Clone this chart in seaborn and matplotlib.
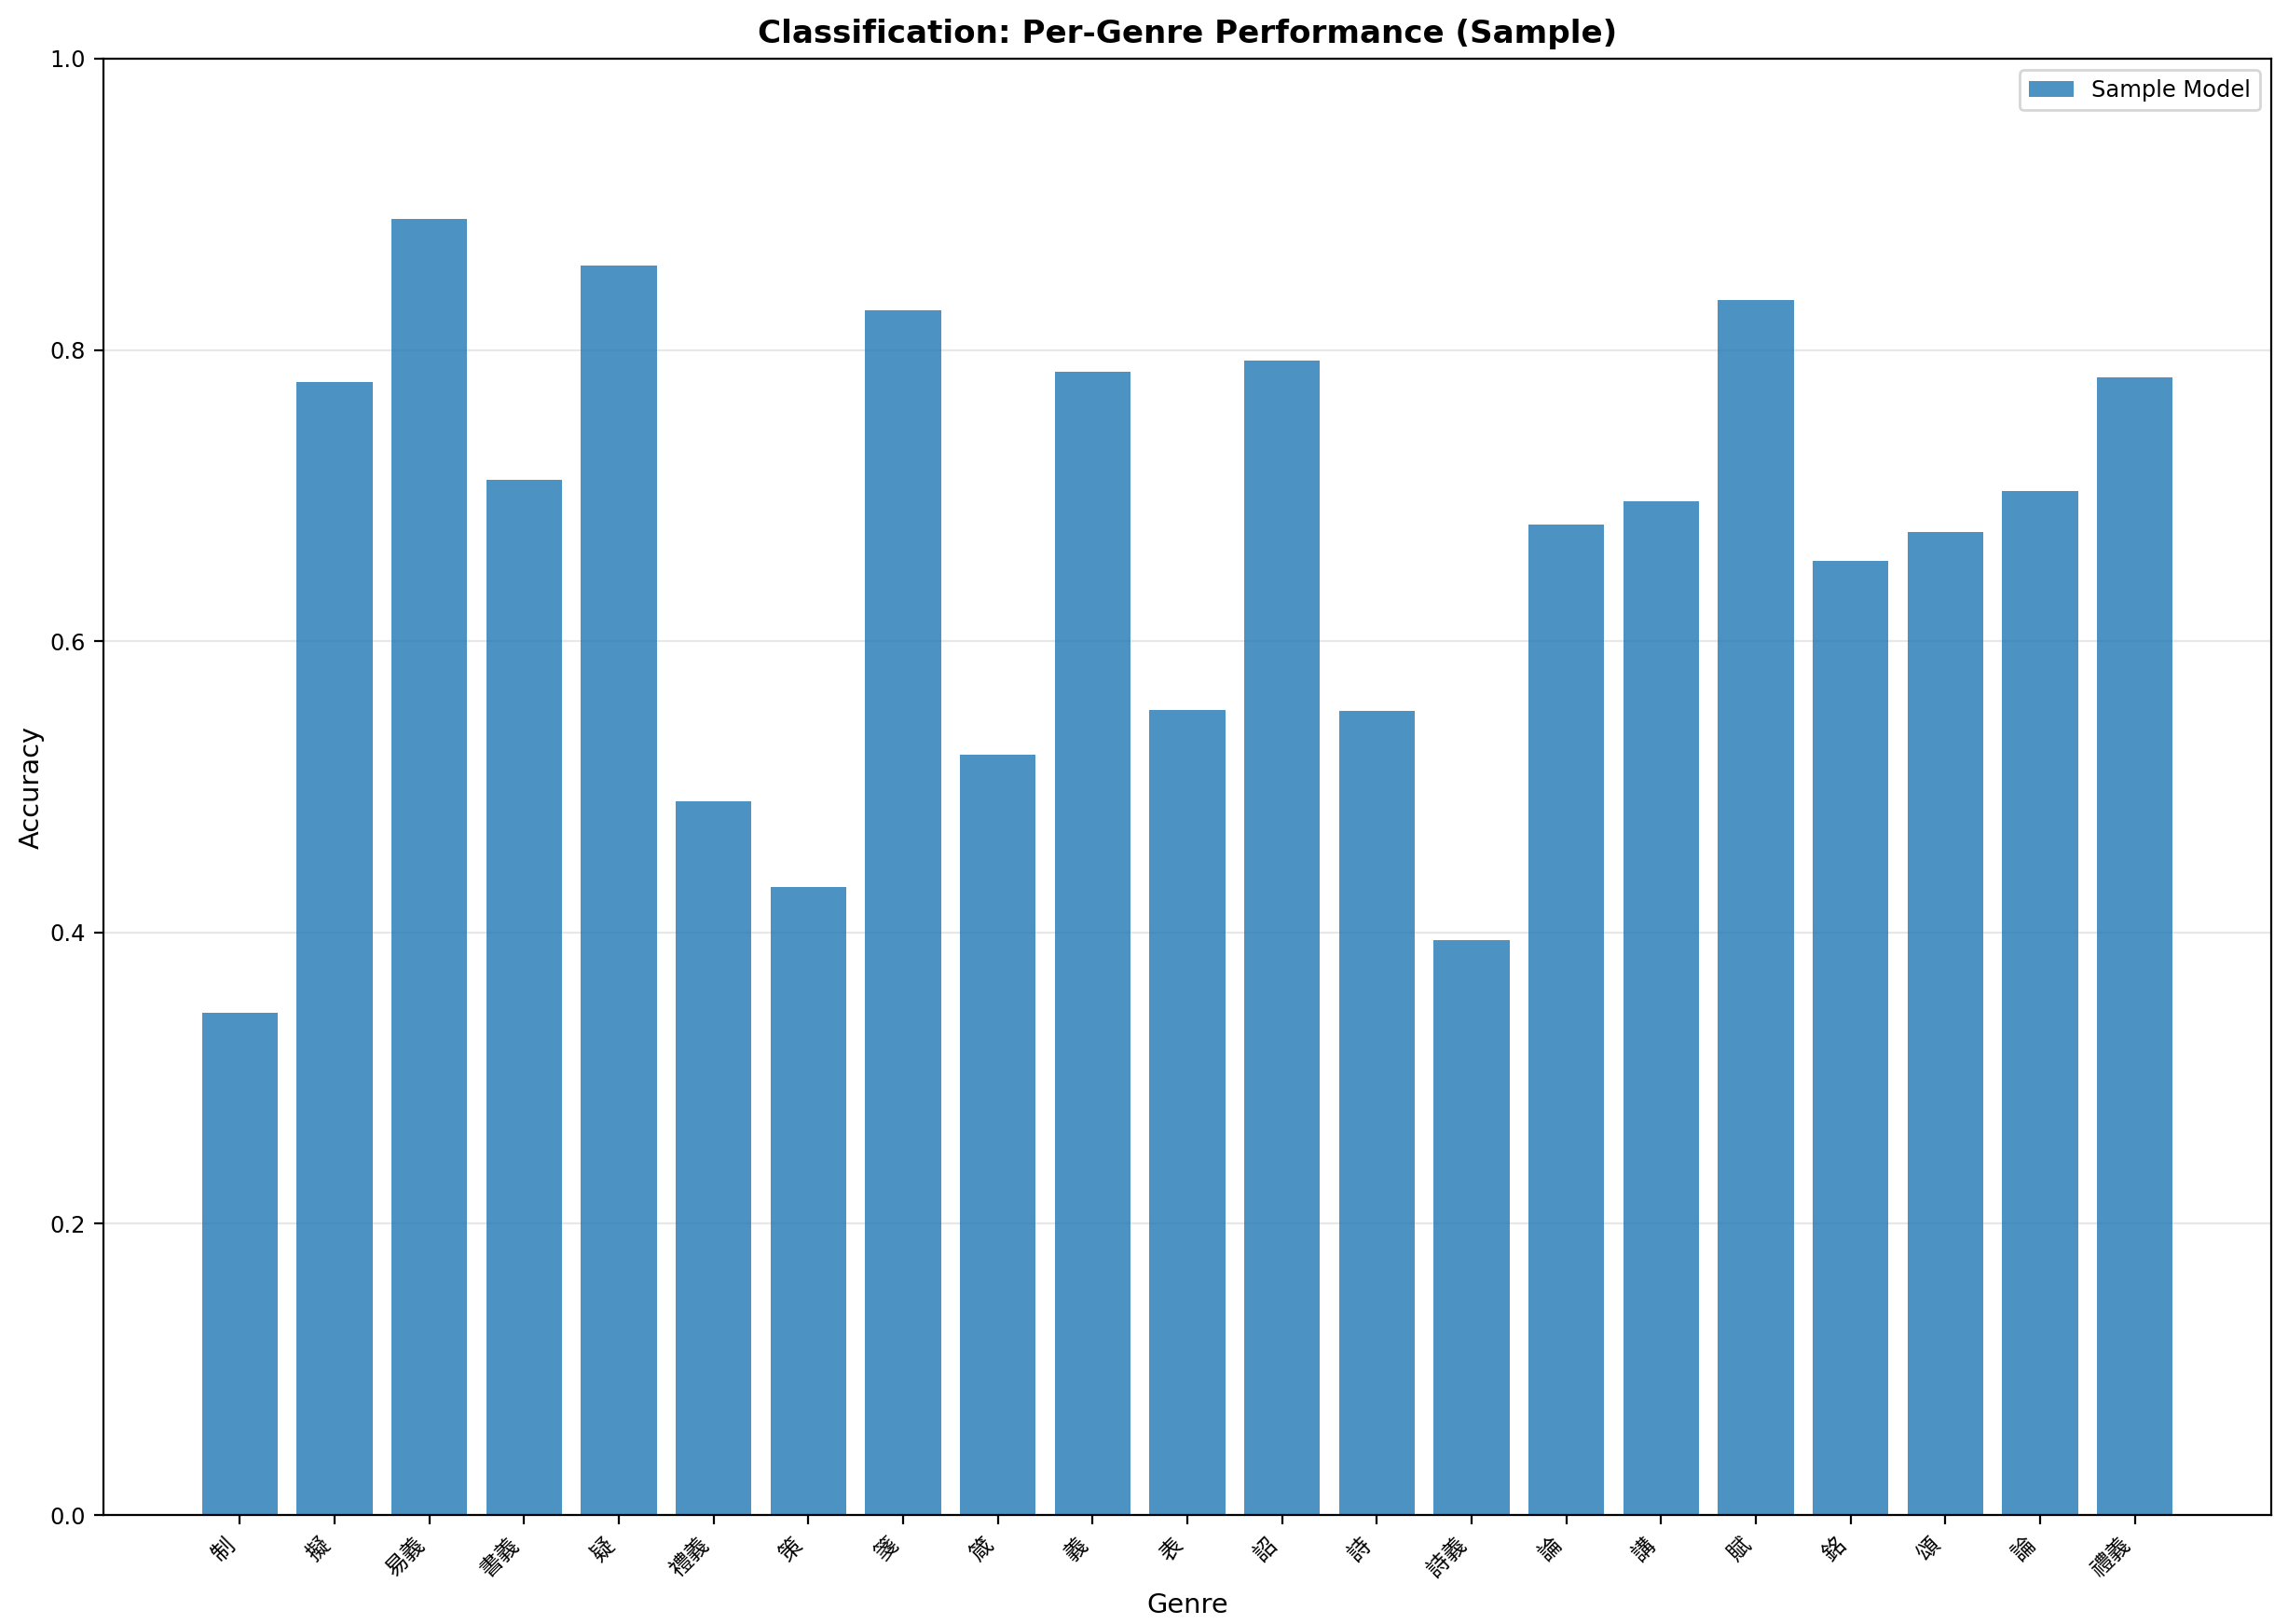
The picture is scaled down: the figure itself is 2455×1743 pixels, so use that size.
import matplotlib
matplotlib.use("Agg")
import matplotlib.pyplot as plt
import seaborn as sns
import pandas as pd

genres = ["制", "擬", "易義", "書義", "疑", "禮義", "策", "箋", "箴", "義", "表",
          "詔", "詩", "詩義", "論", "講", "賦", "銘", "頌", "\uF941", "\uF9B6義"]
accuracy = [0.345, 0.778, 0.890, 0.711, 0.858, 0.490, 0.431, 0.827, 0.522, 0.785, 0.553,
            0.793, 0.552, 0.395, 0.680, 0.696, 0.834, 0.655, 0.675, 0.703, 0.781]

df = pd.DataFrame({"Genre": genres, "Accuracy": accuracy})

fig, ax = plt.subplots(figsize=(12.275, 8.715), dpi=200)
sns.barplot(data=df, x="Genre", y="Accuracy", color="#1f77b4", alpha=0.8,
            saturation=1, width=0.8, label="Sample Model", ax=ax, errorbar=None)

n = len(genres)
span = n - 0.2
ax.set_xlim(-0.4 - 0.05 * span, n - 0.6 + 0.05 * span)
ax.set_ylim(0, 1.0)
ax.yaxis.grid(True, alpha=0.3)
ax.set_axisbelow(True)
ax.tick_params(axis="y", labelsize=8.7)
ax.set_xticks(range(n))
ax.set_xticklabels(genres, rotation=45, ha="right", fontsize=8.7,
                   family=["Noto Sans CJK TC", "Noto Sans CJK SC", "DejaVu Sans"])
ax.set_xlabel("Genre", fontsize=10.4)
ax.set_ylabel("Accuracy", fontsize=10.4, labelpad=2)
ax.set_title("Classification: Per-Genre Performance (Sample)", fontsize=12.3, fontweight="bold")
ax.legend(loc="upper right", fontsize=8.7)

fig.subplots_adjust(left=111/2455, right=2437/2455, top=1-63/1743, bottom=1-1626/1743)
fig.savefig("out.png", dpi=200)
